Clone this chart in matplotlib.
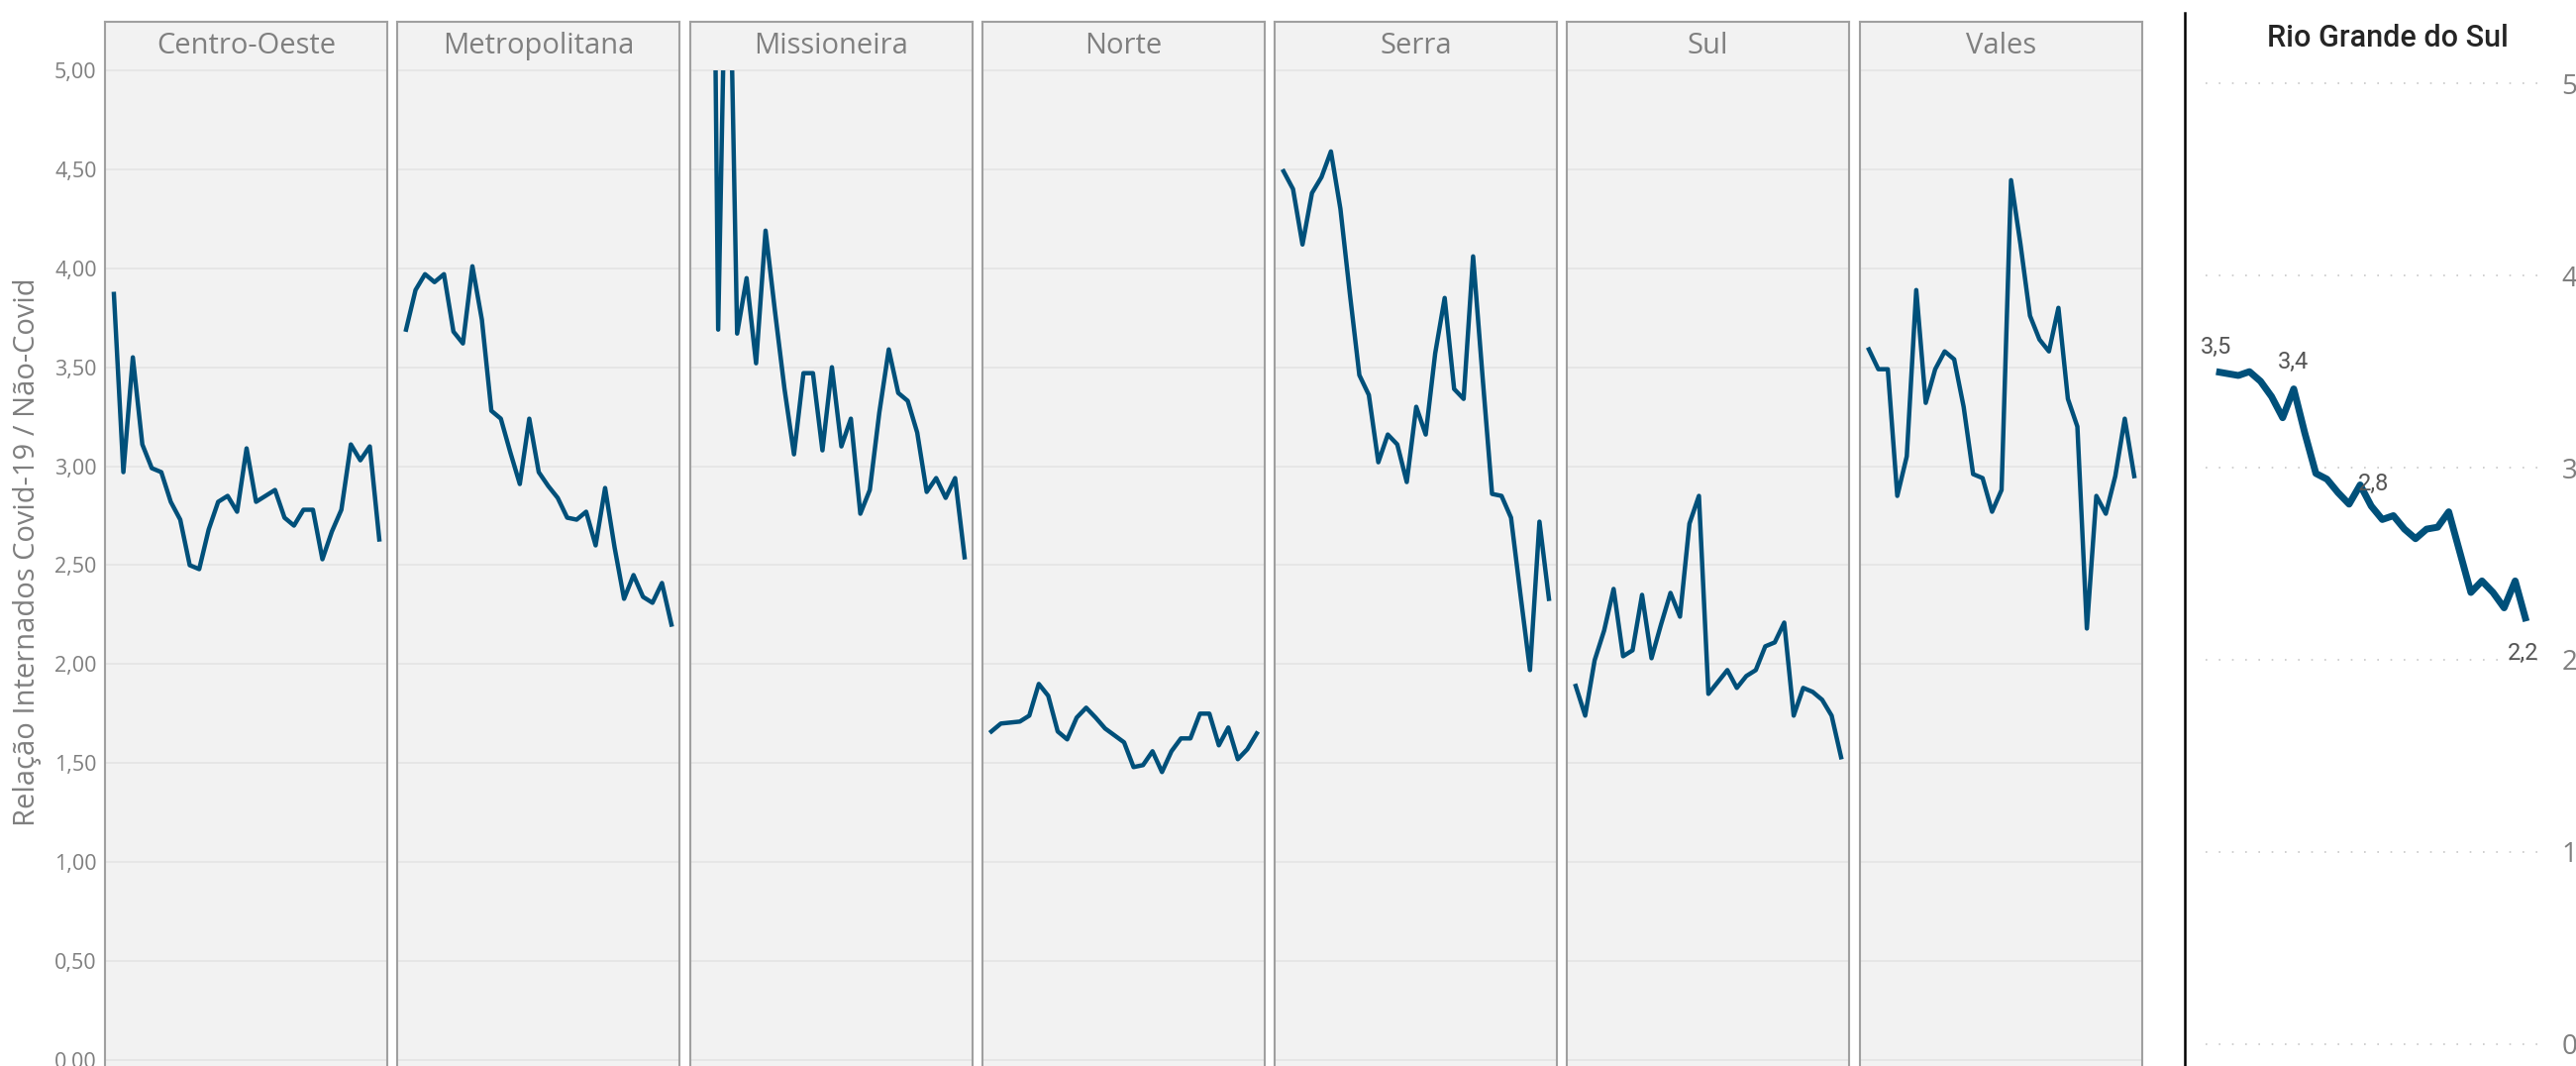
import numpy as np
import matplotlib.pyplot as plt
from matplotlib.patches import Rectangle
from matplotlib.lines import Line2D
from matplotlib.ticker import FuncFormatter

# relação internados covid / não-covid, 29 semanas por região
regioes = ['Centro-Oeste', 'Metropolitana', 'Missioneira', 'Norte', 'Serra', 'Sul', 'Vales']

centro_oeste = [3.87, 2.97, 3.55, 3.11, 2.99, 2.97, 2.82, 2.73, 2.50, 2.48, 2.68, 2.82, 2.85, 2.77, 3.09,
                2.82, 2.85, 2.88, 2.74, 2.70, 2.78, 2.78, 2.53, 2.67, 2.78, 3.11, 3.03, 3.10, 2.63]
metropolitana = [3.69, 3.89, 3.97, 3.93, 3.97, 3.68, 3.62, 4.01, 3.74, 3.28, 3.24, 3.07, 2.91, 3.24, 2.97,
                 2.90, 2.84, 2.74, 2.73, 2.77, 2.60, 2.89, 2.59, 2.33, 2.45, 2.34, 2.31, 2.41, 2.20]
missioneira = [6.5, 8.5, 3.69, 6.2, 3.67, 3.95, 3.52, 4.19, 3.78, 3.39, 3.06, 3.47, 3.47, 3.08, 3.50,
               3.10, 3.24, 2.76, 2.88, 3.27, 3.59, 3.37, 3.33, 3.17, 2.87, 2.94, 2.84, 2.94, 2.54]
norte = [1.66, 1.70, 1.705, 1.71, 1.74, 1.90, 1.84, 1.66, 1.62, 1.73, 1.78, 1.73, 1.675, 1.64, 1.605,
         1.48, 1.49, 1.56, 1.455, 1.56, 1.625, 1.625, 1.75, 1.75, 1.59, 1.68, 1.52, 1.57, 1.65]
serra = [4.49, 4.40, 4.12, 4.38, 4.46, 4.59, 4.30, 3.87, 3.46, 3.36, 3.02, 3.16, 3.11, 2.92, 3.30,
         3.16, 3.57, 3.85, 3.39, 3.34, 4.06, 3.45, 2.86, 2.85, 2.74, 2.35, 1.97, 2.72, 2.33]
sul = [1.89, 1.74, 2.02, 2.17, 2.38, 2.04, 2.07, 2.35, 2.03, 2.20, 2.36, 2.24, 2.71, 2.85, 1.85,
       1.91, 1.97, 1.88, 1.94, 1.97, 2.09, 2.11, 2.21, 1.74, 1.88, 1.86, 1.82, 1.74, 1.53]
vales = [3.59, 3.49, 3.49, 2.85, 3.05, 3.89, 3.32, 3.49, 3.58, 3.54, 3.30, 2.96, 2.94, 2.77, 2.88,
         4.445, 4.12, 3.76, 3.64, 3.58, 3.80, 3.34, 3.20, 2.18, 2.85, 2.76, 2.95, 3.24, 2.95]
series = [centro_oeste, metropolitana, missioneira, norte, serra, sul, vales]

rio_grande_do_sul = [3.50, 3.49, 3.48, 3.50, 3.45, 3.37, 3.26, 3.41, 3.18, 2.97, 2.94, 2.87, 2.81, 2.91, 2.80,
                     2.73, 2.75, 2.68, 2.63, 2.68, 2.69, 2.77, 2.56, 2.35, 2.41, 2.35, 2.27, 2.41, 2.20]
pontos_rotulo = [0, 7, 14, 28]

cor_linha = '#00507A'
cinza = '#7F7F7F'

plt.rcParams['font.family'] = ['Open Sans', 'DejaVu Sans']

W, H = 2601, 1076
fig = plt.figure(figsize=(W / 100, H / 100), dpi=100)

virgula = FuncFormatter(lambda v, p: f'{v:.2f}'.replace('.', ','))
esquerdas = [106, 401, 697, 992, 1287, 1582, 1878]  # px

for i, (nome, valores) in enumerate(zip(regioes, series)):
    ax = fig.add_axes([esquerdas[i] / W, -4 / H, 285 / W, 1058 / H])
    ax.set_facecolor('#F2F2F2')
    x = np.arange(len(valores))
    linha, = ax.plot(x, valores, color=cor_linha, lw=3.2, solid_joinstyle='round')
    # corta a linha em 5,00 (o painel continua acima para o título)
    linha.set_clip_path(Rectangle((-2, -1), 40, 6, transform=ax.transData))
    ax.set_xlim(-0.94, 28.84)
    ax.set_ylim(-0.05, 5.245)
    ax.set_yticks(np.arange(0, 5.01, 0.5))
    ax.yaxis.set_major_formatter(virgula)
    ax.grid(axis='y', color='#E4E4E4', lw=1.2)
    ax.set_axisbelow(True)
    ax.set_xticks([])
    ax.tick_params(axis='y', length=0, labelsize=15.5, labelcolor=cinza, pad=6)
    if i > 0:
        ax.tick_params(labelleft=False)
    for s in ax.spines.values():
        s.set_color('#A0A0A0')
        s.set_linewidth(1.5)
    ax.text(0.5, 5.12, nome, transform=ax.get_yaxis_transform(), ha='center', va='center',
            fontsize=21, color=cinza)

fig.text(28 / W, 1 - 557 / H, 'Relação Internados Covid-19 / Não-Covid', rotation=90,
         ha='center', va='center', fontsize=21, color=cinza)

# separador
fig.add_artist(Line2D([2205.5 / W] * 2, [0, 1 - 13 / H], color='black', lw=1.8))

# painel do estado
axr = fig.add_axes([2227 / W, 1 - 1063.2 / H, 343 / W, (1063.2 - 74.7) / H])
xr = np.arange(len(rio_grande_do_sul))
axr.plot(xr, rio_grande_do_sul, color=cor_linha, lw=5, solid_joinstyle='round', solid_capstyle='butt')
axr.set_xlim(-0.96, 29.72)
axr.set_ylim(-0.05, 5.05)
axr.set_yticks(range(6))
axr.set_xticks([])
axr.grid(axis='y', color='#C8C8C8', lw=1.2, linestyle=(0, (1, 7)))
axr.tick_params(axis='y', left=False, right=True, labelleft=False, labelright=True,
                length=0, pad=12, labelsize=20, labelcolor=cinza)
for s in axr.spines.values():
    s.set_visible(False)

deslocamentos = {0: (0, 25), 7: (0, 27), 14: (2, 22), 28: (-3, -32)}
for k in pontos_rotulo:
    v = rio_grande_do_sul[k]
    axr.annotate(f'{v:.1f}'.replace('.', ','), (k, v), xytext=deslocamentos[k], textcoords='offset pixels',
                 ha='center', va='center', fontsize=17, color='#555555', family=['Roboto', 'DejaVu Sans'])

fig.text(2411 / W, 1 - 47 / H, 'Rio Grande do Sul', ha='center', va='baseline', fontsize=22,
         fontweight='medium', color='#252525', family=['Roboto', 'DejaVu Sans'])

plt.savefig('out.png', dpi=100)
